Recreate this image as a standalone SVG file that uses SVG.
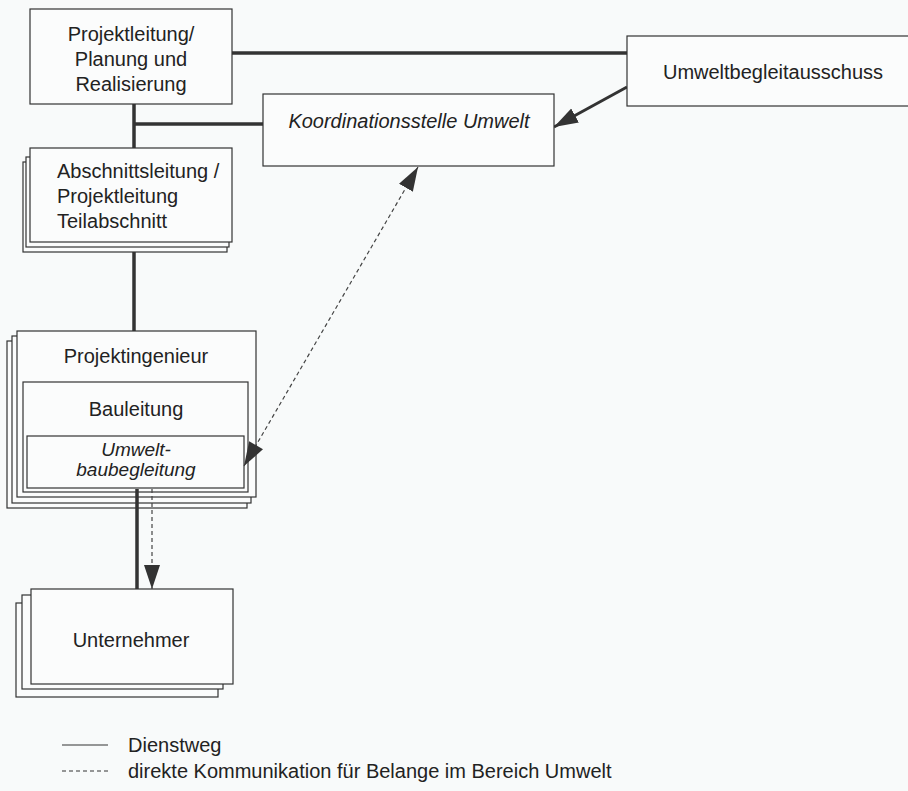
<svg xmlns="http://www.w3.org/2000/svg" width="908" height="791" viewBox="0 0 908 791">
<style>
.bg{fill:#f8fafa}
.box{fill:#fbfcfc;stroke:#333;stroke-width:1.2}
.t{font-family:"Liberation Sans",Arial,sans-serif;font-size:20px;fill:#222}
.c{text-anchor:middle}
.i{font-style:italic}
.main{stroke:#333;stroke-width:3.5;fill:none}
.dash{stroke:#444;stroke-width:1.2;stroke-dasharray:4 3;fill:none}
.leg{stroke:#333;stroke-width:1.2;fill:none}
</style>
<defs>
<marker id="ah" markerUnits="userSpaceOnUse" markerWidth="26" markerHeight="18" refX="24" refY="8" orient="auto">
<path d="M0,0 L24,8 L0,16 Z" fill="#333"/>
</marker>
<marker id="ahs" markerUnits="userSpaceOnUse" markerWidth="26" markerHeight="18" refX="0" refY="8" orient="auto">
<path d="M24,0 L0,8 L24,16 Z" fill="#333"/>
</marker>
</defs>
<rect class="bg" x="0" y="0" width="908" height="791"/>

<g id="connectors">
<line class="main" x1="232" y1="53" x2="627" y2="53"/>
<line class="main" x1="134" y1="104" x2="134" y2="148"/>
<line class="main" x1="134" y1="124" x2="263" y2="124"/>
<line class="main" x1="134" y1="252" x2="134" y2="331"/>
<line class="main" x1="627" y1="87" x2="554" y2="127" marker-end="url(#ah)" style="stroke-width:3"/>
</g>

<g id="n1">
<rect class="box" x="30" y="9" width="202" height="95"/>
<text class="t c" x="131" y="41">Projektleitung/</text>
<text class="t c" x="131" y="66">Planung und</text>
<text class="t c" x="131" y="91">Realisierung</text>
</g>

<g id="n2">
<rect class="box" x="627" y="36" width="285" height="70"/>
<text class="t c" x="773" y="79">Umweltbegleitausschuss</text>
</g>

<g id="n3">
<rect class="box" x="263" y="94" width="291" height="72"/>
<text class="t c i" x="409" y="128">Koordinationsstelle Umwelt</text>
</g>

<g id="n4">
<rect class="box" x="23" y="162" width="204" height="90"/>
<rect class="box" x="26" y="157" width="203" height="90"/>
<rect class="box" x="30" y="148" width="202" height="94"/>
<text class="t" x="57" y="178">Abschnittsleitung /</text>
<text class="t" x="57" y="203">Projektleitung</text>
<text class="t" x="57" y="228">Teilabschnitt</text>
</g>

<g id="n5">
<rect class="box" x="7" y="341" width="240" height="167"/>
<rect class="box" x="12" y="336" width="239" height="167"/>
<rect class="box" x="17" y="331" width="239" height="166"/>
<text class="t c" x="136" y="363">Projektingenieur</text>
<g id="n5b">
<rect class="box" x="23" y="382" width="225" height="110"/>
<text class="t c" x="136" y="416">Bauleitung</text>
</g>
<g id="n5c">
<rect class="box" x="27" y="436" width="217" height="52"/>
<text class="t c i" x="136" y="456" style="font-size:19px">Umwelt-</text>
<text class="t c i" x="136" y="476" style="font-size:19px">baubegleitung</text>
</g>
</g>

<g id="n6">
<rect class="box" x="16" y="603" width="202" height="94"/>
<rect class="box" x="22" y="595" width="201" height="94"/>
<rect class="box" x="31" y="589" width="202" height="95"/>
<text class="t c" x="131" y="647">Unternehmer</text>
</g>

<g id="connectors2">
<line class="main" x1="137" y1="489" x2="137" y2="589"/>
<line class="dash" x1="152" y1="489" x2="152" y2="589" marker-end="url(#ah)"/>
<line class="dash" x1="244" y1="466" x2="418" y2="167" marker-start="url(#ahs)" marker-end="url(#ah)"/>
</g>

<g id="legend">
<line class="leg" x1="62" y1="745" x2="108" y2="745"/>
<line class="leg" x1="62" y1="771" x2="110" y2="771" stroke-dasharray="4 3"/>
<text class="t" x="128" y="752">Dienstweg</text>
<text class="t" x="128" y="778">direkte Kommunikation für Belange im Bereich Umwelt</text>
</g>
</svg>
